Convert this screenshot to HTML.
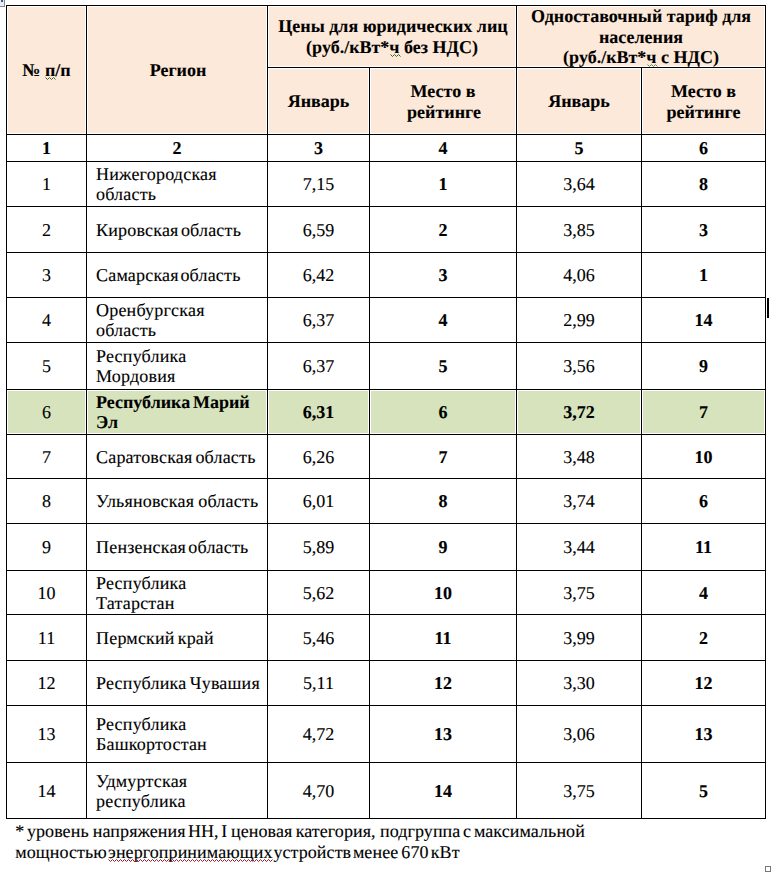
<!DOCTYPE html>
<html><head><meta charset="utf-8"><style>
html,body{margin:0;padding:0;background:#fff;}
body{width:773px;height:873px;position:relative;overflow:hidden;font-family:"Liberation Serif",serif;font-size:18px;color:#000;text-rendering:geometricPrecision;}
.l{position:absolute;background:#000;}
.f{position:absolute;}
.t{position:absolute;height:20px;line-height:20px;white-space:nowrap;-webkit-text-stroke:0.12px #000;}
.b{font-weight:bold;}
.r{letter-spacing:0.2px;word-spacing:-2.4px;}
.w{position:absolute;height:20px;line-height:20px;white-space:nowrap;letter-spacing:0.08px;-webkit-text-stroke:0.12px #000;}
</style></head>
<body>
<div class="f" style="left:8px;top:7px;width:77px;height:126px;background:#FDE9D9"></div>
<div class="f" style="left:88px;top:7px;width:178px;height:126px;background:#FDE9D9"></div>
<div class="f" style="left:269px;top:7px;width:246px;height:59px;background:#FDE9D9"></div>
<div class="f" style="left:518px;top:7px;width:246px;height:59px;background:#FDE9D9"></div>
<div class="f" style="left:269px;top:69px;width:99px;height:64px;background:#FDE9D9"></div>
<div class="f" style="left:371px;top:69px;width:144px;height:64px;background:#FDE9D9"></div>
<div class="f" style="left:518px;top:69px;width:122px;height:64px;background:#FDE9D9"></div>
<div class="f" style="left:643px;top:69px;width:121px;height:64px;background:#FDE9D9"></div>
<div class="f" style="left:8px;top:391px;width:77px;height:42px;background:#D6E3BC"></div>
<div class="f" style="left:88px;top:391px;width:178px;height:42px;background:#D6E3BC"></div>
<div class="f" style="left:269px;top:391px;width:99px;height:42px;background:#D6E3BC"></div>
<div class="f" style="left:371px;top:391px;width:144px;height:42px;background:#D6E3BC"></div>
<div class="f" style="left:518px;top:391px;width:122px;height:42px;background:#D6E3BC"></div>
<div class="f" style="left:643px;top:391px;width:121px;height:42px;background:#D6E3BC"></div>
<div class="l" style="left:6px;top:5px;width:760px;height:1px"></div>
<div class="l" style="left:6px;top:134px;width:760px;height:1px"></div>
<div class="l" style="left:6px;top:161px;width:760px;height:1px"></div>
<div class="l" style="left:6px;top:206px;width:760px;height:1px"></div>
<div class="l" style="left:6px;top:252px;width:760px;height:1px"></div>
<div class="l" style="left:6px;top:297px;width:760px;height:1px"></div>
<div class="l" style="left:6px;top:342px;width:760px;height:1px"></div>
<div class="l" style="left:6px;top:389px;width:760px;height:1px"></div>
<div class="l" style="left:6px;top:434px;width:760px;height:1px"></div>
<div class="l" style="left:6px;top:478px;width:760px;height:1px"></div>
<div class="l" style="left:6px;top:523px;width:760px;height:1px"></div>
<div class="l" style="left:6px;top:570px;width:760px;height:1px"></div>
<div class="l" style="left:6px;top:614px;width:760px;height:1px"></div>
<div class="l" style="left:6px;top:660px;width:760px;height:1px"></div>
<div class="l" style="left:6px;top:705px;width:760px;height:1px"></div>
<div class="l" style="left:6px;top:762px;width:760px;height:1px"></div>
<div class="l" style="left:6px;top:818px;width:760px;height:1px"></div>
<div class="l" style="left:267px;top:67px;width:499px;height:1px"></div>
<div class="l" style="left:6px;top:5px;width:1px;height:814px"></div>
<div class="l" style="left:86px;top:5px;width:1px;height:814px"></div>
<div class="l" style="left:267px;top:5px;width:1px;height:814px"></div>
<div class="l" style="left:369px;top:67px;width:1px;height:752px"></div>
<div class="l" style="left:516px;top:5px;width:1px;height:814px"></div>
<div class="l" style="left:641px;top:67px;width:1px;height:752px"></div>
<div class="l" style="left:765px;top:5px;width:1px;height:814px"></div>
<div class="t b" style="left:7px;width:79px;top:60px;text-align:center;">№ п/п</div>
<div class="t b" style="left:88px;width:180px;top:60px;text-align:center;">Регион</div>
<div class="t b" style="left:269px;width:248px;top:16px;text-align:center;">Цены для юридических лиц</div>
<div class="t b" style="left:268px;width:248px;top:37px;text-align:center;">(руб./кВт*ч без НДС)</div>
<div class="t b" style="left:517px;width:248px;top:6px;text-align:center;">Одноставочный тариф для</div>
<div class="t b" style="left:517px;width:248px;top:27px;text-align:center;">населения</div>
<div class="t b" style="left:517px;width:248px;top:47px;text-align:center;">(руб./кВт*ч с НДС)</div>
<div class="t b" style="left:268px;width:101px;top:91px;text-align:center;">Январь</div>
<div class="t b" style="left:517px;width:124px;top:91px;text-align:center;">Январь</div>
<div class="t b" style="left:370px;width:146px;top:81px;text-align:center;">Место в</div>
<div class="t b" style="left:371px;width:146px;top:102px;text-align:center;">рейтинге</div>
<div class="t b" style="left:642px;width:123px;top:81px;text-align:center;">Место в</div>
<div class="t b" style="left:642px;width:123px;top:102px;text-align:center;">рейтинге</div>
<div class="t b" style="left:7px;width:79px;top:138px;text-align:center;">1</div>
<div class="t b" style="left:87px;width:180px;top:138px;text-align:center;">2</div>
<div class="t b" style="left:268px;width:101px;top:138px;text-align:center;">3</div>
<div class="t b" style="left:370px;width:146px;top:138px;text-align:center;">4</div>
<div class="t b" style="left:517px;width:124px;top:138px;text-align:center;">5</div>
<div class="t b" style="left:642px;width:123px;top:138px;text-align:center;">6</div>
<div class="t" style="left:7px;width:79px;top:174px;text-align:center;">1</div>
<div class="t r" style="left:96px;top:164px;">Нижегородская</div>
<div class="t r" style="left:96px;top:184px;">область</div>
<div class="t" style="left:268px;width:101px;top:174px;text-align:center;">7,15</div>
<div class="t b" style="left:370px;width:146px;top:174px;text-align:center;">1</div>
<div class="t" style="left:517px;width:124px;top:174px;text-align:center;">3,64</div>
<div class="t b" style="left:642px;width:123px;top:174px;text-align:center;">8</div>
<div class="t" style="left:7px;width:79px;top:220px;text-align:center;">2</div>
<div class="t r" style="left:96px;top:220px;">Кировская</div>
<div class="t r" style="left:180.90px;top:220px">область</div>
<div class="t" style="left:268px;width:101px;top:220px;text-align:center;">6,59</div>
<div class="t b" style="left:370px;width:146px;top:220px;text-align:center;">2</div>
<div class="t" style="left:517px;width:124px;top:220px;text-align:center;">3,85</div>
<div class="t b" style="left:642px;width:123px;top:220px;text-align:center;">3</div>
<div class="t" style="left:7px;width:79px;top:265px;text-align:center;">3</div>
<div class="t r" style="left:96px;top:265px;">Самарская</div>
<div class="t r" style="left:180.40px;top:265px">область</div>
<div class="t" style="left:268px;width:101px;top:265px;text-align:center;">6,42</div>
<div class="t b" style="left:370px;width:146px;top:265px;text-align:center;">3</div>
<div class="t" style="left:517px;width:124px;top:265px;text-align:center;">4,06</div>
<div class="t b" style="left:642px;width:123px;top:265px;text-align:center;">1</div>
<div class="t" style="left:7px;width:79px;top:310px;text-align:center;">4</div>
<div class="t r" style="left:96px;top:300px;">Оренбургская</div>
<div class="t r" style="left:96px;top:320px;">область</div>
<div class="t" style="left:268px;width:101px;top:310px;text-align:center;">6,37</div>
<div class="t b" style="left:370px;width:146px;top:310px;text-align:center;">4</div>
<div class="t" style="left:517px;width:124px;top:310px;text-align:center;">2,99</div>
<div class="t b" style="left:642px;width:123px;top:310px;text-align:center;">14</div>
<div class="t" style="left:7px;width:79px;top:356px;text-align:center;">5</div>
<div class="t r" style="left:96px;top:346px;">Республика</div>
<div class="t r" style="left:96px;top:366px;">Мордовия</div>
<div class="t" style="left:268px;width:101px;top:356px;text-align:center;">6,37</div>
<div class="t b" style="left:370px;width:146px;top:356px;text-align:center;">5</div>
<div class="t" style="left:517px;width:124px;top:356px;text-align:center;">3,56</div>
<div class="t b" style="left:642px;width:123px;top:356px;text-align:center;">9</div>
<div class="t" style="left:7px;width:79px;top:402px;text-align:center;">6</div>
<div class="t b" style="left:96px;top:392px;">Республика</div>
<div class="t b" style="left:193.00px;top:392px">Марий</div>
<div class="t b" style="left:96px;top:412px;">Эл</div>
<div class="t b" style="left:268px;width:101px;top:402px;text-align:center;">6,31</div>
<div class="t b" style="left:370px;width:146px;top:402px;text-align:center;">6</div>
<div class="t b" style="left:517px;width:124px;top:402px;text-align:center;">3,72</div>
<div class="t b" style="left:642px;width:123px;top:402px;text-align:center;">7</div>
<div class="t" style="left:7px;width:79px;top:447px;text-align:center;">7</div>
<div class="t r" style="left:96px;top:447px;">Саратовская</div>
<div class="t r" style="left:195.40px;top:447px">область</div>
<div class="t" style="left:268px;width:101px;top:447px;text-align:center;">6,26</div>
<div class="t b" style="left:370px;width:146px;top:447px;text-align:center;">7</div>
<div class="t" style="left:517px;width:124px;top:447px;text-align:center;">3,48</div>
<div class="t b" style="left:642px;width:123px;top:447px;text-align:center;">10</div>
<div class="t" style="left:7px;width:79px;top:491px;text-align:center;">8</div>
<div class="t r" style="left:96px;top:491px;">Ульяновская</div>
<div class="t r" style="left:198.20px;top:491px">область</div>
<div class="t" style="left:268px;width:101px;top:491px;text-align:center;">6,01</div>
<div class="t b" style="left:370px;width:146px;top:491px;text-align:center;">8</div>
<div class="t" style="left:517px;width:124px;top:491px;text-align:center;">3,74</div>
<div class="t b" style="left:642px;width:123px;top:491px;text-align:center;">6</div>
<div class="t" style="left:7px;width:79px;top:537px;text-align:center;">9</div>
<div class="t r" style="left:96px;top:537px;">Пензенская</div>
<div class="t r" style="left:188.30px;top:537px">область</div>
<div class="t" style="left:268px;width:101px;top:537px;text-align:center;">5,89</div>
<div class="t b" style="left:370px;width:146px;top:537px;text-align:center;">9</div>
<div class="t" style="left:517px;width:124px;top:537px;text-align:center;">3,44</div>
<div class="t b" style="left:642px;width:123px;top:537px;text-align:center;">11</div>
<div class="t" style="left:7px;width:79px;top:583px;text-align:center;">10</div>
<div class="t r" style="left:96px;top:573px;">Республика</div>
<div class="t r" style="left:96px;top:593px;">Татарстан</div>
<div class="t" style="left:268px;width:101px;top:583px;text-align:center;">5,62</div>
<div class="t b" style="left:370px;width:146px;top:583px;text-align:center;">10</div>
<div class="t" style="left:517px;width:124px;top:583px;text-align:center;">3,75</div>
<div class="t b" style="left:642px;width:123px;top:583px;text-align:center;">4</div>
<div class="t" style="left:7px;width:79px;top:628px;text-align:center;">11</div>
<div class="t r" style="left:96px;top:628px;">Пермский</div>
<div class="t r" style="left:177.70px;top:628px">край</div>
<div class="t" style="left:268px;width:101px;top:628px;text-align:center;">5,46</div>
<div class="t b" style="left:370px;width:146px;top:628px;text-align:center;">11</div>
<div class="t" style="left:517px;width:124px;top:628px;text-align:center;">3,99</div>
<div class="t b" style="left:642px;width:123px;top:628px;text-align:center;">2</div>
<div class="t" style="left:7px;width:79px;top:673px;text-align:center;">12</div>
<div class="t r" style="left:96px;top:673px;">Республика</div>
<div class="t r" style="left:189.80px;top:673px">Чувашия</div>
<div class="t" style="left:268px;width:101px;top:673px;text-align:center;">5,11</div>
<div class="t b" style="left:370px;width:146px;top:673px;text-align:center;">12</div>
<div class="t" style="left:517px;width:124px;top:673px;text-align:center;">3,30</div>
<div class="t b" style="left:642px;width:123px;top:673px;text-align:center;">12</div>
<div class="t" style="left:7px;width:79px;top:724px;text-align:center;">13</div>
<div class="t r" style="left:96px;top:714px;">Республика</div>
<div class="t r" style="left:96px;top:734px;">Башкортостан</div>
<div class="t" style="left:268px;width:101px;top:724px;text-align:center;">4,72</div>
<div class="t b" style="left:370px;width:146px;top:724px;text-align:center;">13</div>
<div class="t" style="left:517px;width:124px;top:724px;text-align:center;">3,06</div>
<div class="t b" style="left:642px;width:123px;top:724px;text-align:center;">13</div>
<div class="t" style="left:7px;width:79px;top:781px;text-align:center;">14</div>
<div class="t r" style="left:96px;top:771px;">Удмуртская</div>
<div class="t r" style="left:96px;top:791px;">республика</div>
<div class="t" style="left:268px;width:101px;top:781px;text-align:center;">4,70</div>
<div class="t b" style="left:370px;width:146px;top:781px;text-align:center;">14</div>
<div class="t" style="left:517px;width:124px;top:781px;text-align:center;">3,75</div>
<div class="t b" style="left:642px;width:123px;top:781px;text-align:center;">5</div>
<div class="w" style="left:15.20px;top:821px">*</div>
<div class="w" style="left:26.90px;top:821px">уровень</div>
<div class="w" style="left:92.80px;top:821px">напряжения</div>
<div class="w" style="left:187.90px;top:821px">НН,</div>
<div class="w" style="left:221.30px;top:821px">I</div>
<div class="w" style="left:231.00px;top:821px">ценовая</div>
<div class="w" style="left:295.70px;top:821px">категория,</div>
<div class="w" style="left:380.00px;top:821px">подгруппа</div>
<div class="w" style="left:463.10px;top:821px">с</div>
<div class="w" style="left:473.90px;top:821px">максимальной</div>
<div class="w" style="left:15.20px;top:842px">мощностью</div>
<div class="w" style="left:108.10px;top:842px">энергопринимающих</div>
<div class="w" style="left:273.40px;top:842px">устройств</div>
<div class="w" style="left:352.90px;top:842px">менее</div>
<div class="w" style="left:401.30px;top:842px">670</div>
<div class="w" style="left:430.80px;top:842px">кВт</div>
<svg style="position:absolute;left:45px;top:77px;overflow:visible" width="12" height="3"><polyline points="0.5,0.5 2.5,2.5 4.5,0.5 6.5,2.5 8.5,0.5 10.5,2.5" fill="none" stroke="#2E6A28" stroke-width="1"/></svg>
<svg style="position:absolute;left:390px;top:54px;overflow:visible" width="12" height="3"><polyline points="0.5,0.5 2.5,2.5 4.5,0.5 6.5,2.5 8.5,0.5 10.5,2.5" fill="none" stroke="#2E6A28" stroke-width="1"/></svg>
<svg style="position:absolute;left:647px;top:64px;overflow:visible" width="12" height="3"><polyline points="0.5,0.5 2.5,2.5 4.5,0.5 6.5,2.5 8.5,0.5 10.5,2.5" fill="none" stroke="#5E8F50" stroke-width="1"/></svg>
<svg style="position:absolute;left:108px;top:859px;overflow:visible" width="166" height="3"><polyline points="0.5,0.5 2.5,2.5 4.5,0.5 6.5,2.5 8.5,0.5 10.5,2.5 12.5,0.5 14.5,2.5 16.5,0.5 18.5,2.5 20.5,0.5 22.5,2.5 24.5,0.5 26.5,2.5 28.5,0.5 30.5,2.5 32.5,0.5 34.5,2.5 36.5,0.5 38.5,2.5 40.5,0.5 42.5,2.5 44.5,0.5 46.5,2.5 48.5,0.5 50.5,2.5 52.5,0.5 54.5,2.5 56.5,0.5 58.5,2.5 60.5,0.5 62.5,2.5 64.5,0.5 66.5,2.5 68.5,0.5 70.5,2.5 72.5,0.5 74.5,2.5 76.5,0.5 78.5,2.5 80.5,0.5 82.5,2.5 84.5,0.5 86.5,2.5 88.5,0.5 90.5,2.5 92.5,0.5 94.5,2.5 96.5,0.5 98.5,2.5 100.5,0.5 102.5,2.5 104.5,0.5 106.5,2.5 108.5,0.5 110.5,2.5 112.5,0.5 114.5,2.5 116.5,0.5 118.5,2.5 120.5,0.5 122.5,2.5 124.5,0.5 126.5,2.5 128.5,0.5 130.5,2.5 132.5,0.5 134.5,2.5 136.5,0.5 138.5,2.5 140.5,0.5 142.5,2.5 144.5,0.5 146.5,2.5 148.5,0.5 150.5,2.5 152.5,0.5 154.5,2.5 156.5,0.5 158.5,2.5 160.5,0.5 162.5,2.5 164.5,0.5" fill="none" stroke="#9A1C2C" stroke-width="1"/></svg>
<div style="position:absolute;left:767px;top:298px;width:2px;height:20px;background:#000"></div>
<div style="position:absolute;left:765px;top:866px;width:4px;height:4px;border:1px solid #777"></div>
<div style="position:absolute;left:0px;top:0px;width:4px;height:6px;background:#E6ECF8;border-right:1px solid #888;border-bottom:1px solid #888"></div>
<div style="position:absolute;left:1px;top:0px;width:2px;height:2px;background:#4A5870"></div>
</body></html>
